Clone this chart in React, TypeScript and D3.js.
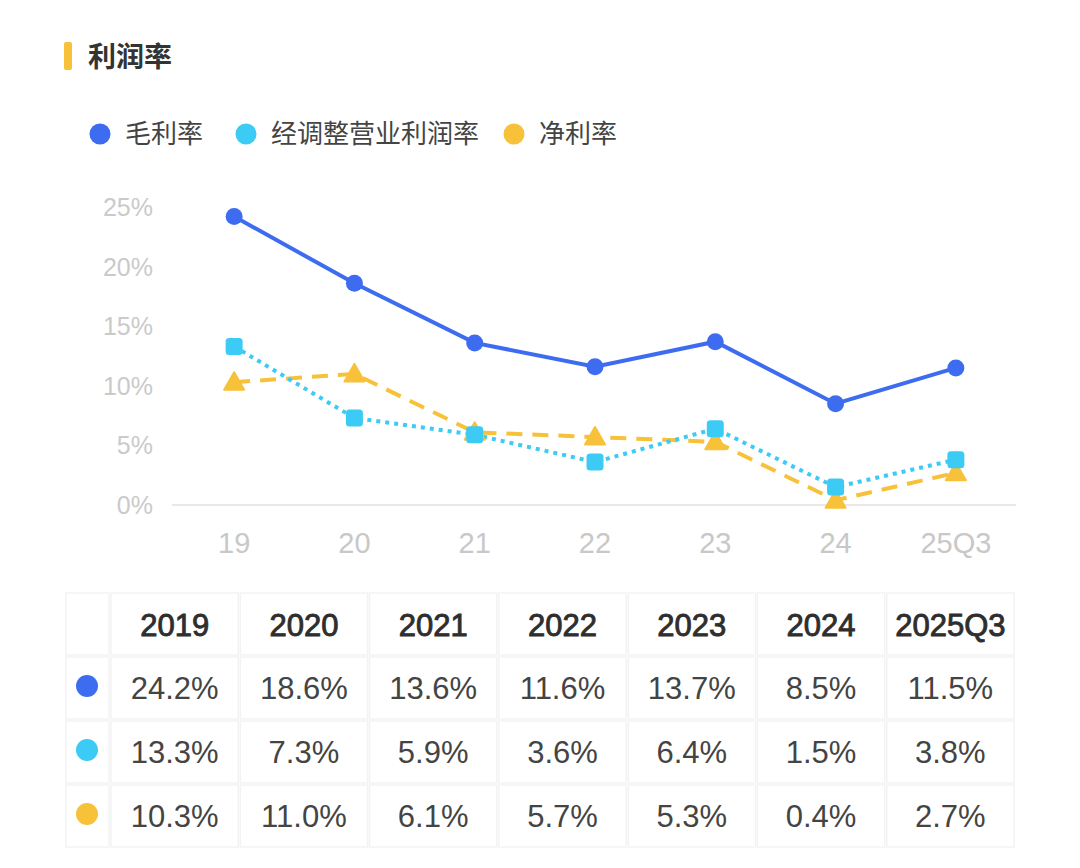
import React from "react";
import * as d3 from "d3";

const categories = ["19", "20", "21", "22", "23", "24", "25Q3"];
const years = ["2019", "2020", "2021", "2022", "2023", "2024", "2025Q3"];
const grossMargin = [24.2, 18.6, 13.6, 11.6, 13.7, 8.5, 11.5];
const adjOpMargin = [13.3, 7.3, 5.9, 3.6, 6.4, 1.5, 3.8];
const netMargin = [10.3, 11.0, 6.1, 5.7, 5.3, 0.4, 2.7];
const yTicks = [0, 5, 10, 15, 20, 25];
const seriesNames = ["毛利率", "经调整营业利润率", "净利率"];
const colors = ["#3d6cf0", "#3ccbf4", "#f7c13a"];

const FONT = "'Noto Sans CJK SC', 'Noto Sans', sans-serif";
const NUM = "'Liberation Sans', Arial, sans-serif";

export default function App() {
  const W = 1080, H = 868;
  const x = d3.scaleBand<string>().domain(categories).range([174, 1016]);
  const cx = (c: string) => (x(c) as number) + x.bandwidth() / 2;
  const y = d3.scaleLinear().domain([0, 25]).range([505, 207]);
  const series = [grossMargin, adjOpMargin, netMargin];
  const line = d3.line<number>().x((_, i) => cx(categories[i])).y((d) => y(d));

  const colW = (1015 - 110) / 7;
  const colX = (i: number) => (i === 0 ? 65 : 110 + (i - 1) * colW);
  const colWidth = (i: number) => (i === 0 ? 45 : colW);
  const rowY = [592, 656, 720, 784];
  const rowH = 64;

  const legendX = [100, 246, 514];

  return (
    <svg width={W} height={H} style={{ display: "block", position: "absolute", left: 0, top: 0, background: "#fff" }} fontFamily={FONT}>
      <rect width={W} height={H} fill="#fff" />
      <rect x={64} y={42} width={8} height={28} rx={2} fill="#f7c13a" />
      <text x={88} y={67} fontSize={28} fontWeight={700} fill="#333">利润率</text>

      {seriesNames.map((n, i) => (
        <g key={n}>
          <circle cx={legendX[i]} cy={134} r={10.5} fill={colors[i]} />
          <text x={legendX[i] + 25} y={143} fontSize={26} fill="#444">{n}</text>
        </g>
      ))}

      {yTicks.map((t) => (
        <text key={t} x={153} y={y(t) + 9} fontSize={25} fill="#cacaca" textAnchor="end" fontFamily={NUM}>{t}%</text>
      ))}
      <line x1={172} x2={1016} y1={y(0)} y2={y(0)} stroke="#e8e8e8" strokeWidth={2} />
      {categories.map((c) => (
        <text key={c} x={cx(c)} y={553} fontSize={29} fill="#c8c8c8" textAnchor="middle" fontFamily={NUM}>{c}</text>
      ))}

      <path d={line(netMargin) || ""} fill="none" stroke={colors[2]} strokeWidth={4} strokeDasharray="16 10" />
      <path d={line(adjOpMargin) || ""} fill="none" stroke={colors[1]} strokeWidth={4} strokeDasharray="4 5" />
      <path d={line(grossMargin) || ""} fill="none" stroke={colors[0]} strokeWidth={4} />

      {netMargin.map((v, i) => {
        const px = cx(categories[i]), py = y(v);
        const s = 10;
        return <path key={"n" + i} d={`M${px},${py - s}L${px + s},${py + s * 0.75}L${px - s},${py + s * 0.75}Z`} fill={colors[2]} stroke={colors[2]} strokeWidth={2} strokeLinejoin="round" />;
      })}
      {adjOpMargin.map((v, i) => (
        <rect key={"a" + i} x={cx(categories[i]) - 8.5} y={y(v) - 8.5} width={17} height={17} rx={3.5} fill={colors[1]} />
      ))}
      {grossMargin.map((v, i) => (
        <circle key={"g" + i} cx={cx(categories[i])} cy={y(v)} r={8.5} fill={colors[0]} />
      ))}

      {rowY.map((ry, r) =>
        [0, 1, 2, 3, 4, 5, 6, 7].map((ci) => (
          <rect key={`c${r}-${ci}`} x={colX(ci) + 1} y={ry + 1} width={colWidth(ci) - 2} height={rowH - 2} fill="#fff" stroke="#f3f3f3" strokeWidth={1.5} />
        ))
      )}
      {years.map((yr, i) => (
        <text key={yr} x={colX(i + 1) + colW / 2} y={rowY[0] + rowH / 2 + 12} fontSize={31} fontWeight={400} fill="#2e2e2e" textAnchor="middle" fontFamily={NUM} stroke="#2e2e2e" strokeWidth={0.9}>{yr}</text>
      ))}
      {series.map((s, r) => (
        <g key={"row" + r}>
          <circle cx={87} cy={rowY[r + 1] + rowH / 2 - 2} r={11} fill={colors[r]} />
          {s.map((v, i) => (
            <text key={i} x={colX(i + 1) + colW / 2} y={rowY[r + 1] + rowH / 2 + 11} fontSize={31} fill="#444" textAnchor="middle" fontFamily={NUM}>{v.toFixed(1)}%</text>
          ))}
        </g>
      ))}
    </svg>
  );
}
